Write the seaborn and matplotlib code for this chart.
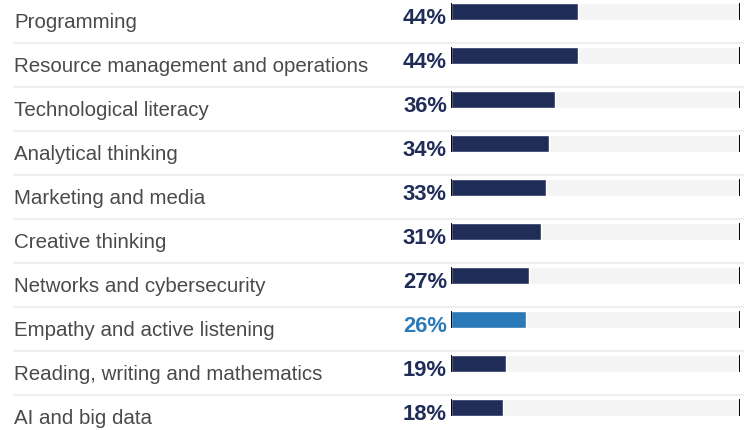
import pandas as pd
import matplotlib.pyplot as plt
import seaborn as sns

# Skills data (share of respondents, %)
skills = [
    "Programming",
    "Resource management and operations",
    "Technological literacy",
    "Analytical thinking",
    "Marketing and media",
    "Creative thinking",
    "Networks and cybersecurity",
    "Empathy and active listening",
    "Reading, writing and mathematics",
    "AI and big data",
]
values = [44, 44, 36, 34, 33, 31, 27, 26, 19, 18]
highlight = "Empathy and active listening"

navy = "#212d59"
blue = "#2a7ab9"
track = "#f4f4f4"
sep = "#eeeeee"
label_col = "#4a4a4a"

df = pd.DataFrame({"skill": skills, "value": values})
df["full"] = 100
colors = {s: (blue if s == highlight else navy) for s in skills}

sns.set_style("white")
plt.rcParams["font.family"] = ["Liberation Sans", "DejaVu Sans"]

W, H = 750, 431
fig = plt.figure(figsize=(7.5, 4.31), dpi=100)
x0, x1 = 451, 740
ax = fig.add_axes([x0 / W, 0, (x1 - x0) / W, 1])

bar_h = 17 / 44
sns.barplot(data=df, x="full", y="skill", color=track, width=bar_h,
            saturation=1, ax=ax)
sns.barplot(data=df, x="value", y="skill", hue="skill", palette=colors,
            width=bar_h, saturation=1, legend=False, ax=ax)

ax.set_xlim(0, 100)
ax.set_ylim((H - 12.5) / 44, -12.5 / 44)
ax.axis("off")

px = (x1 - x0) / 100  # pixels per percent
for i, (s, v) in enumerate(zip(skills, values)):
    ax.vlines([0, 100], i - bar_h / 2, i + bar_h / 2, color="black", lw=1.4)
    ax.text((14 - x0) / px, i + 0.35, s, ha="left", va="baseline",
            fontsize=14.8, color=label_col, clip_on=False)
    ax.text(-4 / px, i + 0.27, f"{v}%", ha="right", va="baseline",
            fontsize=15.8, fontweight="bold",
            color=blue if s == highlight else navy, clip_on=False)
    if i > 0:
        ax.axhline(i - 12.5 / 44, xmin=(14 - x0) / (x1 - x0),
                   xmax=(743 - x0) / (x1 - x0), color=sep, lw=1.5,
                   clip_on=False, zorder=0)

fig.savefig("out.png", dpi=100)
